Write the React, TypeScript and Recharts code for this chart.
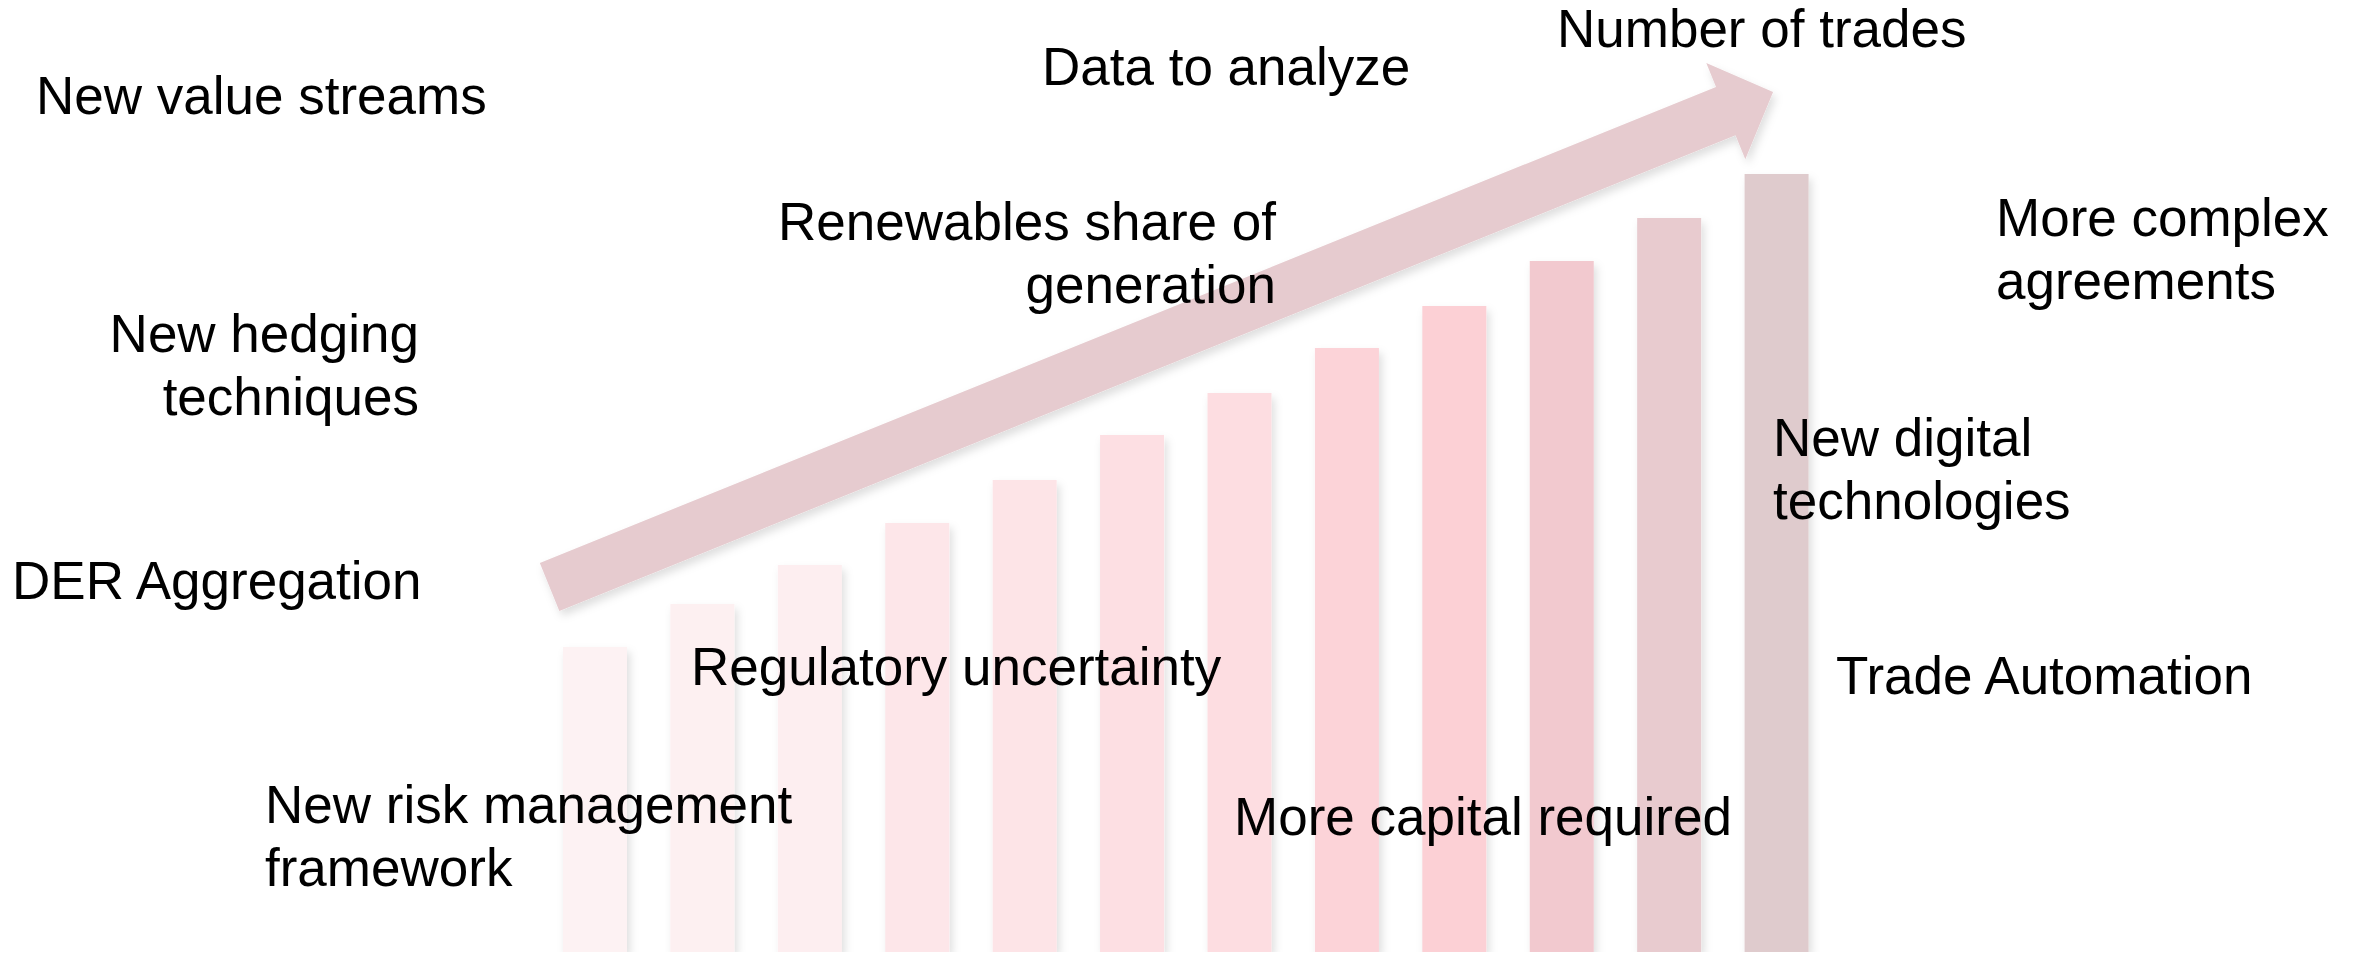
import { BarChart, Bar, Cell, XAxis, YAxis, ReferenceLine } from 'recharts';

// bar heights (arbitrary units)
const steps = ['1', '2', '3', '4', '5', '6', '7', '8', '9', '10', '11', '12'];
const heights = [305, 348, 387, 429, 472, 517, 559, 604, 646, 691, 734, 778];
const barColors = [
  '#fdf2f3', '#fdf0f1', '#fdeef0', '#fde6e9', '#fde4e7', '#fddfe3',
  '#fddde1', '#fcd3d8', '#fcd0d5', '#f2c9cf', '#e8cbcf', '#dfcbcd',
];

// arrow from lower left to upper right, in the numeric x / y units
const arrowFrom = { x: 0.08, y: 365 };
const arrowTo = { x: 11.47, y: 860 };

const data = steps.map((s, i) => ({ step: s, pos: i + 0.5, value: heights[i] }));

const notes = [
  { lines: ['Number of trades'], left: 1557, top: -3 },
  { lines: ['Data to analyze'], left: 1042, top: 35 },
  { lines: ['New value streams'], left: 36, top: 64 },
  { lines: ['Renewables share of', 'generation'], right: 1276, top: 190 },
  { lines: ['More complex', 'agreements'], left: 1996, top: 186 },
  { lines: ['New hedging', 'techniques'], right: 419, top: 302 },
  { lines: ['New digital', 'technologies'], left: 1773, top: 406 },
  { lines: ['DER Aggregation'], left: 12, top: 549 },
  { lines: ['Regulatory uncertainty'], left: 691, top: 635 },
  { lines: ['Trade Automation'], left: 1836, top: 644 },
  { lines: ['New risk management', 'framework'], left: 265, top: 773 },
  { lines: ['More capital required'], left: 1234, top: 785 },
];

const W = 2362;
const H = 958;

function ArrowShape(props: any) {
  const { x1, y1, x2, y2 } = props;
  if ([x1, y1, x2, y2].some((v) => typeof v !== 'number')) return null;
  const dx = x2 - x1;
  const dy = y2 - y1;
  const len = Math.hypot(dx, dy);
  const ux = dx / len;
  const uy = dy / len;
  const nx = -uy;
  const ny = ux;
  const shaft = 26;
  const head = 52;
  const headLen = 51;
  const bx = x2 - ux * headLen;
  const by = y2 - uy * headLen;
  const pts = [
    [x1 + nx * shaft, y1 + ny * shaft],
    [bx + nx * shaft, by + ny * shaft],
    [bx + nx * head, by + ny * head],
    [x2, y2],
    [bx - nx * head, by - ny * head],
    [bx - nx * shaft, by - ny * shaft],
    [x1 - nx * shaft, y1 - ny * shaft],
  ];
  return (
    <polygon
      points={pts.map((p) => p.join(',')).join(' ')}
      fill="#e6cbcf"
      filter="url(#softShadow)"
    />
  );
}

export default function App() {
  return (
    <div
      style={{
        position: 'absolute',
        left: 0,
        top: 0,
        width: W,
        height: H,
        background: '#fff',
        overflow: 'hidden',
        fontFamily: '"Liberation Sans", Arial, sans-serif',
      }}
    >
      <svg width={0} height={0} style={{ position: 'absolute' }}>
        <defs>
          <filter id="softShadow" x="-10%" y="-10%" width="130%" height="130%">
            <feDropShadow dx="3" dy="5" stdDeviation="4" floodColor="#000" floodOpacity="0.13" />
          </filter>
        </defs>
      </svg>
      <BarChart
        width={W}
        height={H}
        data={data}
        margin={{ top: 0, right: 532, bottom: 6, left: 541 }}
      >
        <XAxis dataKey="step" hide />
        <XAxis
          xAxisId="num"
          dataKey="pos"
          type="number"
          domain={[0, 12]}
          allowDataOverflow
          hide
        />
        <YAxis domain={[0, 952]} allowDataOverflow hide />
        <Bar dataKey="value" barSize={64} isAnimationActive={false} filter="url(#softShadow)">
          {data.map((d, i) => (
            <Cell key={d.step} fill={barColors[i]} />
          ))}
        </Bar>
        <ReferenceLine
          xAxisId="num"
          segment={[arrowFrom, arrowTo]}
          ifOverflow="visible"
          shape={ArrowShape}
        />
      </BarChart>
      {notes.map((n) => (
        <div
          key={n.lines[0]}
          style={{
            position: 'absolute',
            top: n.top,
            left: n.left,
            right: n.right !== undefined ? W - n.right : undefined,
            textAlign: n.right !== undefined ? 'right' : 'left',
            fontSize: 53,
            lineHeight: '63px',
            color: '#000',
            whiteSpace: 'nowrap',
          }}
        >
          {n.lines.map((l) => (
            <div key={l}>{l}</div>
          ))}
        </div>
      ))}
    </div>
  );
}
